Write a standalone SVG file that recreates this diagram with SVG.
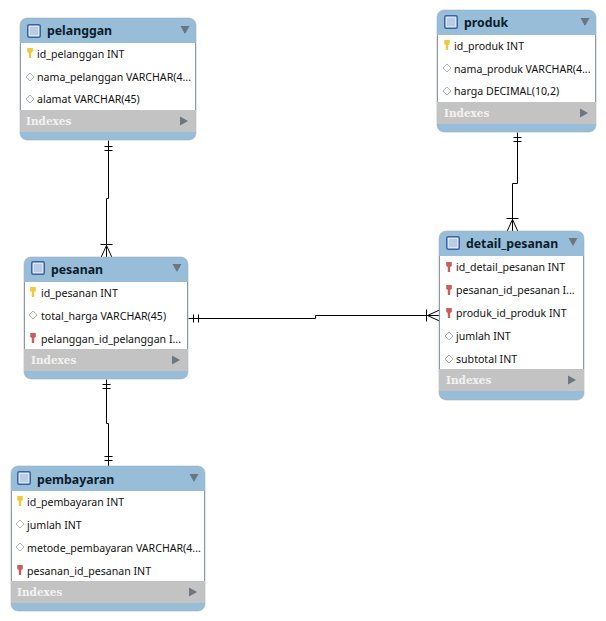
<svg xmlns="http://www.w3.org/2000/svg" width="606" height="621" viewBox="0 0 606 621">
<style>
.bg{fill:#fff}
.box{fill:#fff}
.edge{fill:none;stroke:#8f979e;stroke-width:1}
.head{fill:#97bdd9;stroke:#a3b4c0;stroke-width:0.6}
.idx{fill:#c3c3c3}
.t{font:bold 12.300px "Noto Sans","DejaVu Sans",sans-serif;fill:#0b1c2c}
.r{font:10.600px "Noto Sans","DejaVu Sans",sans-serif;fill:#111}
.i{font:bold 10.500px "DejaVu Serif","Liberation Serif",serif;fill:#f2f2f2}
.c{fill:none;stroke:#000;stroke-width:1}
.tri{fill:#6c7680}
.ic{fill:#dbe6f5;stroke:#3a62a8;stroke-width:1.5}
.ic2{fill:#b9cde6}
.d{fill:#fff;stroke:#a9b4b4;stroke-width:1}
.pk{fill:#f0c93f}
.fk{fill:#c9605f}
</style>
<defs>
<g id="icon"><rect class="ic" x="0.750" y="0.750" width="12.500" height="12.500" rx="1.500"/><rect class="ic2" x="3" y="3" width="8" height="8"/></g>
<path id="down" class="tri" d="M-4.500 -4H4.500L0 4Z"/>
<path id="right" class="tri" d="M-4 -4.500L4 0L-4 4.500Z"/>
<path id="key" d="M-2.800 -5H2.800V-1L1.200 0V5H-1.200V0L-2.800 -1Z"/>
<path id="dia" class="d" d="M0 -4L4 0L0 4L-4 0Z"/>
</defs>
<rect class="bg" width="606" height="621"/>
<g id="connectors" transform="translate(0.500 0.500)">
<path class="c" d="M108 140V198H106V257M104 146H112M104 150H112M100 244H112M100.500 257L106 245L111.500 257"/>
<path class="c" d="M188 318H315V315H439M193 314V322M198 314V322M426 309V321M439 309.500L427 315L439 320.500"/>
<path class="c" d="M106 379V423H108V466M102 384H110M102 388H110M104 456H112M104 460H112"/>
<path class="c" d="M517 132V183H512V231M513 137H521M513 141H521M506 218H518M506.500 231L512 219L517.500 231"/>
</g>
<g id="pelanggan">
<rect class="head" x="20" y="18" width="176" height="122" rx="7"/><rect class="box" x="20.500" y="43" width="175" height="67"/><path class="edge" d="M20.500 43V110M195.500 43V110"/><rect class="idx" x="20" y="110" width="176" height="22"/>
<use href="#icon" x="27" y="24"/><text class="t" x="47" y="35">pelanggan</text><use href="#down" x="185" y="30"/>
<use href="#key" x="30" y="53" class="pk"/><text class="r" x="37" y="58">id_pelanggan INT</text>
<use href="#dia" x="30" y="77"/><text class="r" x="37" y="81">nama_pelanggan VARCHAR(4...</text>
<use href="#dia" x="30" y="99"/><text class="r" x="37" y="103">alamat VARCHAR(45)</text>
<text class="i" x="26" y="125">Indexes</text><use href="#right" x="184" y="121"/>
</g>
<g id="pesanan">
<rect class="head" x="24" y="257" width="164" height="122" rx="7"/><rect class="box" x="24.500" y="282" width="163" height="67"/><path class="edge" d="M24.500 282V349M187.500 282V349"/><rect class="idx" x="24" y="349" width="164" height="22"/>
<use href="#icon" x="31" y="261"/><text class="t" x="51" y="274">pesanan</text><use href="#down" x="177" y="268"/>
<use href="#key" x="33" y="292" class="pk"/><text class="r" x="41" y="297">id_pesanan INT</text>
<use href="#dia" x="33" y="315"/><text class="r" x="41" y="320">total_harga VARCHAR(45)</text>
<use href="#key" x="33" y="338" class="fk"/><text class="r" x="41" y="343">pelanggan_id_pelanggan I...</text>
<text class="i" x="31" y="364">Indexes</text><use href="#right" x="176" y="360"/>
</g>
<g id="produk">
<rect class="head" x="437" y="10" width="159" height="122" rx="7"/><rect class="box" x="437.500" y="35" width="158" height="67"/><path class="edge" d="M437.500 35V102M595.500 35V102"/><rect class="idx" x="437" y="102" width="159" height="22"/>
<use href="#icon" x="444" y="15"/><text class="t" x="464" y="27">produk</text><use href="#down" x="585" y="22"/>
<use href="#key" x="447" y="45" class="pk"/><text class="r" x="454" y="50">id_produk INT</text>
<use href="#dia" x="447" y="68"/><text class="r" x="454" y="73">nama_produk VARCHAR(4...</text>
<use href="#dia" x="447" y="91"/><text class="r" x="454" y="95">harga DECIMAL(10,2)</text>
<text class="i" x="444" y="117">Indexes</text><use href="#right" x="584" y="113"/>
</g>
<g id="detail_pesanan">
<rect class="head" x="439" y="231" width="145" height="169" rx="7"/><rect class="box" x="439.500" y="256" width="144" height="113"/><path class="edge" d="M439.500 256V369M583.500 256V369"/><rect class="idx" x="439" y="369" width="145" height="22"/>
<use href="#icon" x="446" y="236"/><text class="t" x="466" y="248">detail_pesanan</text><use href="#down" x="573" y="242"/>
<use href="#key" x="449" y="267" class="fk"/><text class="r" x="456" y="271">id_detail_pesanan INT</text>
<use href="#key" x="449" y="290" class="fk"/><text class="r" x="456" y="294">pesanan_id_pesanan I...</text>
<use href="#key" x="449" y="313" class="fk"/><text class="r" x="456" y="317">produk_id_produk INT</text>
<use href="#dia" x="449" y="336"/><text class="r" x="456" y="340">jumlah INT</text>
<use href="#dia" x="449" y="359"/><text class="r" x="456" y="363">subtotal INT</text>
<text class="i" x="446" y="384">Indexes</text><use href="#right" x="572" y="380"/>
</g>
<g id="pembayaran">
<rect class="head" x="11" y="466" width="194" height="145" rx="7"/><rect class="box" x="11.500" y="491" width="193" height="90"/><path class="edge" d="M11.500 491V581M204.500 491V581"/><rect class="idx" x="11" y="581" width="194" height="22"/>
<use href="#icon" x="17" y="471"/><text class="t" x="37" y="484">pembayaran</text><use href="#down" x="194" y="478"/>
<use href="#key" x="20" y="501" class="pk"/><text class="r" x="27" y="506">id_pembayaran INT</text>
<use href="#dia" x="20" y="524"/><text class="r" x="27" y="529">jumlah INT</text>
<use href="#dia" x="20" y="547"/><text class="r" x="27" y="552">metode_pembayaran VARCHAR(4...</text>
<use href="#key" x="20" y="570" class="fk"/><text class="r" x="27" y="575">pesanan_id_pesanan INT</text>
<text class="i" x="17" y="596">Indexes</text><use href="#right" x="193" y="592"/>
</g>
</svg>
